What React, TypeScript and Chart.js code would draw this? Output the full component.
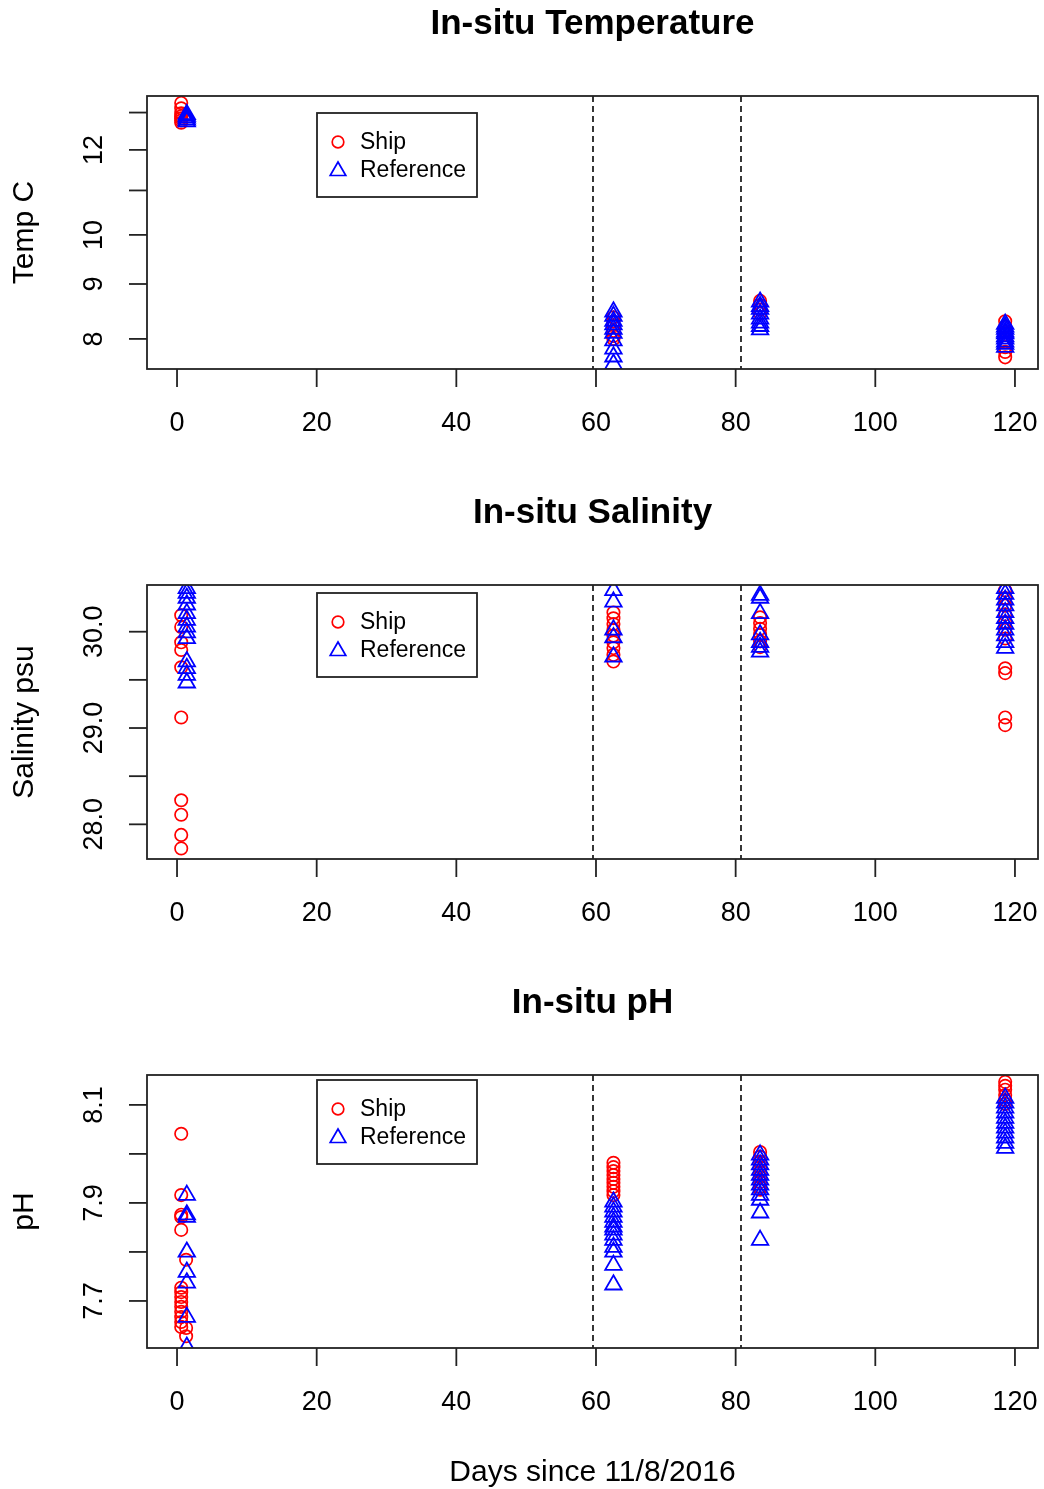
import React, { useEffect, useRef } from "react";
import { Chart, registerables } from "chart.js";
Chart.register(...registerables);

// ---------- DATA ----------
const shipDays = [0.6, 1.3, 62.5, 83.5, 118.6];
const refDays = [1.4, 62.5, 83.5, 118.6];
const dividerDays = [59.5, 80.7];
const xTickValues = [0, 20, 40, 60, 80, 100, 120];

const shipTemp = [
  [13.27, 13.12, 12.98, 12.9, 12.84, 12.78, 12.72],
  [],
  [8.38, 8.3, 8.24, 8.14, 8.05, 8.0],
  [8.68, 8.6, 8.52, 8.45],
  [8.31, 8.21, 8.12, 7.95, 7.86, 7.78, 7.69],
];
const refTemp = [
  [12.95, 12.9, 12.85, 12.8, 12.75],
  [8.48, 8.4, 8.31, 8.25, 8.17, 8.1, 7.97, 7.83, 7.7, 7.58],
  [8.66, 8.58, 8.53, 8.44, 8.35, 8.28, 8.22, 8.16],
  [8.26, 8.21, 8.17, 8.12, 8.09, 8.04, 8.0, 7.95, 7.91, 7.86],
];
const tempTicks = [8, 9, 10, 11, 12, 13];
const tempTickLabels = ["8", "9", "10", "", "12", ""];

const shipSal = [
  [30.17, 30.05, 29.89, 29.81, 29.63, 29.11, 28.25, 28.1, 27.89, 27.75],
  [],
  [30.2, 30.14, 30.08, 30.02, 29.96, 29.89, 29.83, 29.76, 29.69],
  [30.15, 30.09, 30.03, 29.97, 29.9, 29.84],
  [30.43, 30.35, 30.27, 30.18, 30.1, 30.02, 29.93, 29.62, 29.57, 29.11, 29.03],
];
const refSal = [
  [30.45, 30.4, 30.35, 30.28, 30.19, 30.12, 30.05, 29.99, 29.93, 29.69, 29.62, 29.55, 29.47],
  [30.43, 30.31, 30.02, 29.94, 29.74],
  [30.38, 30.35, 30.19, 29.97, 29.89, 29.84, 29.79],
  [30.45, 30.39, 30.33, 30.27, 30.2, 30.14, 30.08, 30.02, 29.96, 29.89, 29.83],
];
const salTicks = [28, 28.5, 29, 29.5, 30];
const salTickLabels = ["28.0", "", "29.0", "", "30.0"];

const shipPH = [
  [8.041, 7.916, 7.876, 7.871, 7.845, 7.727, 7.718, 7.708, 7.698, 7.688, 7.678, 7.667, 7.657, 7.647],
  [7.784, 7.645, 7.628],
  [7.982, 7.973, 7.965, 7.957, 7.949, 7.941, 7.933, 7.924, 7.916],
  [8.004, 7.994, 7.984, 7.973, 7.963, 7.953, 7.943, 7.933, 7.927],
  [8.147, 8.139, 8.131, 8.12, 8.11, 8.102],
];
const refPH = [
  [7.916, 7.876, 7.871, 7.8, 7.759, 7.737, 7.667, 7.606],
  [7.902, 7.892, 7.882, 7.871, 7.861, 7.851, 7.845, 7.835, 7.824, 7.81, 7.8, 7.773, 7.733],
  [7.998, 7.988, 7.978, 7.967, 7.957, 7.947, 7.937, 7.927, 7.916, 7.906, 7.88, 7.824],
  [8.114, 8.104, 8.094, 8.084, 8.073, 8.063, 8.053, 8.043, 8.033, 8.022, 8.012],
];
const phTicks = [7.7, 7.8, 7.9, 8.0, 8.1];
const phTickLabels = ["7.7", "", "7.9", "", "8.1"];

// ---------- STYLE / LAYOUT ----------
const FONT = '"Liberation Sans", Arial, Helvetica, sans-serif';
const INK = "#222";

type Panel = {
  title: string;
  yLabel: string;
  yType: "linear" | "logarithmic";
  yMin: number;
  yMax: number;
  ticks: number[];
  tickLabels: string[];
  ship: number[][];
  ref: number[][];
  top: number;
  height: number;
  padTop: number;
  padBottom: number;
  legendTop: number;
  xTitle?: string;
};

const panels: Panel[] = [
  {
    title: "In-situ Temperature",
    yLabel: "Temp C",
    yType: "logarithmic",
    yMin: 7.52,
    yMax: 13.47,
    ticks: tempTicks,
    tickLabels: tempTickLabels,
    ship: shipTemp,
    ref: refTemp,
    top: 0,
    height: 490,
    padTop: 96,
    padBottom: 121,
    legendTop: 17,
  },
  {
    title: "In-situ Salinity",
    yLabel: "Salinity psu",
    yType: "linear",
    yMin: 27.64,
    yMax: 30.485,
    ticks: salTicks,
    tickLabels: salTickLabels,
    ship: shipSal,
    ref: refSal,
    top: 490,
    height: 490,
    padTop: 95,
    padBottom: 121,
    legendTop: 8,
  },
  {
    title: "In-situ pH",
    yLabel: "pH",
    yType: "linear",
    yMin: 7.604,
    yMax: 8.161,
    ticks: phTicks,
    tickLabels: phTickLabels,
    ship: shipPH,
    ref: refPH,
    top: 979,
    height: 510,
    padTop: 96,
    padBottom: 141,
    legendTop: 5,
    xTitle: "Days since 11/8/2016",
  },
];

function toPoints(days: number[], groups: number[][]) {
  const pts: { x: number; y: number }[] = [];
  groups.forEach((g, i) => g.forEach((v) => pts.push({ x: days[i], y: v })));
  return pts;
}

function drawTriangle(ctx: CanvasRenderingContext2D, x: number, y: number, r: number) {
  ctx.beginPath();
  ctx.moveTo(x, y - r);
  ctx.lineTo(x + r * Math.sin((2 * Math.PI) / 3), y - r * Math.cos((2 * Math.PI) / 3));
  ctx.lineTo(x + r * Math.sin((4 * Math.PI) / 3), y - r * Math.cos((4 * Math.PI) / 3));
  ctx.closePath();
  ctx.stroke();
}

function PanelChart({ p }: { p: Panel }) {
  const ref = useRef<HTMLCanvasElement | null>(null);
  useEffect(() => {
    if (!ref.current) return;
    const decor = {
      id: "rstyle",
      afterDraw(chart: any) {
        const { ctx, chartArea: a } = chart;
        const xs = chart.scales.x;
        const ys = chart.scales.y;
        ctx.save();
        ctx.strokeStyle = INK;
        ctx.fillStyle = "#000";
        ctx.lineWidth = 1.8;
        // dashed dividers
        ctx.setLineDash([6, 4]);
        dividerDays.forEach((d) => {
          const px = Math.round(xs.getPixelForValue(d));
          ctx.beginPath();
          ctx.moveTo(px, a.top);
          ctx.lineTo(px, a.bottom);
          ctx.stroke();
        });
        ctx.setLineDash([]);
        // box
        ctx.strokeRect(a.left, a.top, a.right - a.left, a.bottom - a.top);
        // x axis
        ctx.font = `27px ${FONT}`;
        ctx.textAlign = "center";
        ctx.textBaseline = "middle";
        xTickValues.forEach((t) => {
          const px = xs.getPixelForValue(t);
          ctx.beginPath();
          ctx.moveTo(px, a.bottom);
          ctx.lineTo(px, a.bottom + 18);
          ctx.stroke();
          ctx.fillText(String(t), px, a.bottom + 55);
        });
        // y axis
        p.ticks.forEach((t, i) => {
          const py = ys.getPixelForValue(t);
          ctx.beginPath();
          ctx.moveTo(a.left - 18, py);
          ctx.lineTo(a.left, py);
          ctx.stroke();
          const lab = p.tickLabels[i];
          if (lab) {
            ctx.save();
            ctx.translate(95, py);
            ctx.rotate(-Math.PI / 2);
            ctx.fillText(lab, 0, 0);
            ctx.restore();
          }
        });
        // y label
        ctx.font = `30px ${FONT}`;
        ctx.save();
        ctx.translate(25, (a.top + a.bottom) / 2);
        ctx.rotate(-Math.PI / 2);
        ctx.fillText(p.yLabel, 0, 0);
        ctx.restore();
        // title
        ctx.font = `bold 35px ${FONT}`;
        ctx.fillText(p.title, (a.left + a.right) / 2, a.top - 72);
        // x title
        if (p.xTitle) {
          ctx.font = `30px ${FONT}`;
          ctx.fillText(p.xTitle, (a.left + a.right) / 2, a.bottom + 125);
        }
        // legend
        const lx = 317;
        const ly = a.top + p.legendTop;
        ctx.strokeStyle = INK;
        ctx.strokeRect(lx, ly, 160, 84);
        ctx.font = `23px ${FONT}`;
        ctx.textAlign = "left";
        ctx.lineWidth = 1.7;
        ctx.strokeStyle = "#ff0000";
        ctx.beginPath();
        ctx.arc(338, ly + 29, 5.8, 0, Math.PI * 2);
        ctx.stroke();
        ctx.strokeStyle = "#0000ff";
        drawTriangle(ctx, 338, ly + 58, 9);
        ctx.fillStyle = "#000";
        ctx.fillText("Ship", 360, ly + 30);
        ctx.fillText("Reference", 360, ly + 58);
        ctx.restore();
      },
    };
    const chart = new Chart(ref.current, {
      type: "scatter",
      data: {
        datasets: [
          {
            label: "Ship",
            data: toPoints(shipDays, p.ship),
            pointStyle: "circle",
            pointRadius: 6.2,
            pointBorderWidth: 1.7,
            borderColor: "#ff0000",
            backgroundColor: "rgba(0,0,0,0)",
            order: 1,
            clip: 0,
          },
          {
            label: "Reference",
            data: toPoints(refDays, p.ref),
            pointStyle: "triangle",
            pointRadius: 9.5,
            pointBorderWidth: 1.8,
            borderColor: "#0000ff",
            backgroundColor: "rgba(0,0,0,0)",
            order: 0,
            clip: 0,
          },
        ],
      },
      options: {
        animation: false,
        responsive: false,
        maintainAspectRatio: false,
        events: [],
        layout: {
          autoPadding: false,
          padding: { left: 147, right: 6, top: p.padTop, bottom: p.padBottom },
        },
        plugins: { legend: { display: false }, tooltip: { enabled: false } },
        scales: {
          x: { type: "linear", min: -4.3, max: 123.3, display: false },
          y: { type: p.yType, min: p.yMin, max: p.yMax, display: false },
        },
      },
      plugins: [decor],
    } as any);
    return () => chart.destroy();
  }, [p]);
  return (
    <canvas
      ref={ref}
      width={1044}
      height={p.height}
      style={{ position: "absolute", left: 0, top: p.top, width: 1044, height: p.height }}
    />
  );
}

export default function App() {
  return (
    <div style={{ position: "absolute", left: 0, top: 0, width: 1044, height: 1489, background: "#fff" }}>
      {panels.map((p) => (
        <PanelChart key={p.title} p={p} />
      ))}
    </div>
  );
}
